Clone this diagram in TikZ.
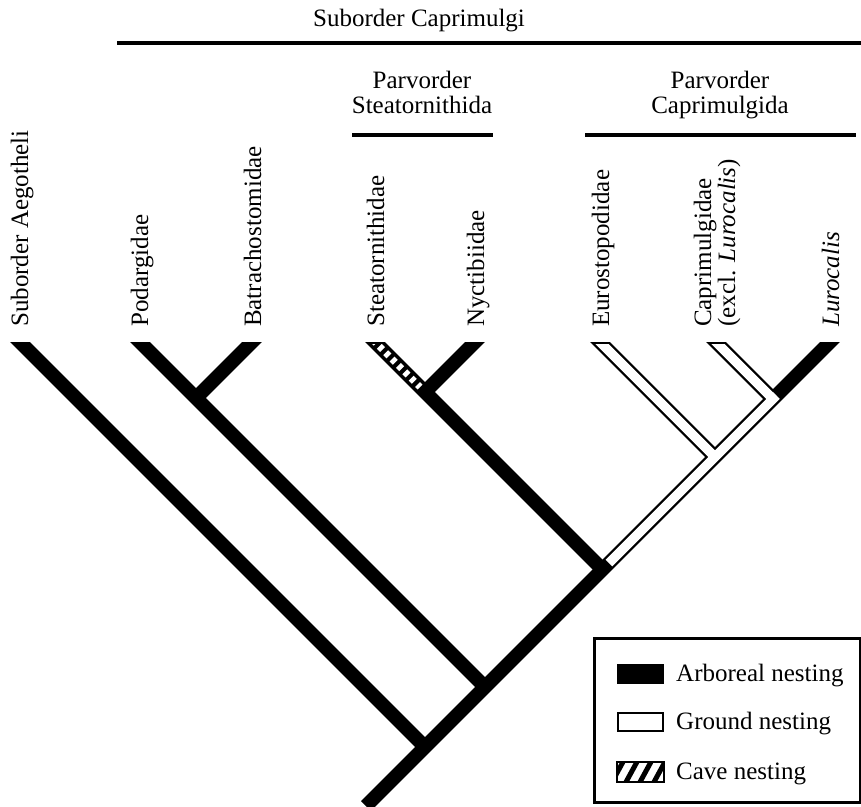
\documentclass[tikz,border=0pt]{standalone}
\usepackage{fontspec}
\setmainfont{Liberation Serif}
\newcommand\fsz{\fontsize{25}{28}\selectfont}
\begin{document}
\begin{tikzpicture}[x=1pt,y=-1pt,
  br/.style={line width=14pt, line cap=butt},
  gr/.style={white, line width=9.5pt, line cap=butt},
  hatchline/.style={white, line width=7pt, line cap=butt, dash pattern=on 4.5pt off 4.5pt},
  vlab/.style={rotate=90, anchor=base west, inner sep=0pt, font=\fsz},
  hlab/.style={anchor=base, inner sep=0pt, font=\fsz},
  glab/.style={anchor=base west, inner sep=0pt, font=\fsz},
  bar/.style={line width=3.5pt},
  legsym/.style={line width=2pt}]
\useasboundingbox (0,0) rectangle (861,806);

% tips (extended above the cut line) and junctions
\coordinate (root) at (366,806);
\coordinate (luE) at (842,330);
\coordinate (aeE) at (8,330);
\coordinate (poE) at (128,330);
\coordinate (baE) at (264,330);
\coordinate (stE) at (363,330);
\coordinate (nyE) at (487,330);
\coordinate (euE) at (588,330);
\coordinate (caE) at (704,330);
\coordinate (A1) at (425,747);
\coordinate (A2) at (485,687);
\coordinate (A3) at (602.5,569.5);
\coordinate (A4) at (715,457);
\coordinate (A5) at (773,399);
\coordinate (J1) at (196,398);
\coordinate (J2) at (425,392);
\coordinate (A3w) at (608.9,563.1);
\coordinate (A5w) at (776.4,395.6);
\coordinate (stH1) at (373,340);
\coordinate (stH2) at (420,387);

% black branches
\begin{scope}
  \clip (0,342) rectangle (861,806);
  \draw[br] (root) -- (luE);
  \draw[br] (aeE) -- (A1);
  \draw[br] (poE) -- (A2);
  \draw[br] (baE) -- (J1);
  \draw[br] (stE) -- (A3);
  \draw[br] (nyE) -- (J2);
  \draw[br] (euE) -- (A4);
  \draw[br] (caE) -- (A5);
\end{scope}
% ground nesting (open) and cave nesting (hatched)
\begin{scope}
  \clip (0,344.3) rectangle (861,806);
  \draw[gr] (euE) -- (A4);
  \draw[gr] (caE) -- (A5);
  \draw[gr] (A3w) -- (A5w);
  \draw[hatchline] (stH1) -- (stH2);
\end{scope}

% taxon labels
\node[vlab] (ae) at (28,327) {Suborder Aegotheli};
\node[vlab] (po) at (148,327) {Podargidae};
\node[vlab] (ba) at (261,327) {Batrachostomidae};
\node[vlab] (st) at (384,327) {Steatornithidae};
\node[vlab] (ny) at (484,327) {Nyctibiidae};
\node[vlab] (eu) at (609,327) {Eurostopodidae};
\node[vlab] (caa) at (711,327) {Caprimulgidae};
\node[vlab] (cab) at (735,327) {(excl. \textit{Lurocalis})};
\node[vlab] (lu) at (839,327) {\textit{Lurocalis}};

% group labels and bars
\node[hlab] (sc) at (419,26) {Suborder Caprimulgi};
\coordinate (scL) at (117,43);
\coordinate (scR) at (861,43);
\draw[bar] (scL) -- (scR);

\node[hlab] (pst1) at (422,88) {Parvorder};
\node[hlab] (pst2) at (422,113) {Steatornithida};
\coordinate (pstL) at (352,135);
\coordinate (pstR) at (493,135);
\draw[bar] (pstL) -- (pstR);

\node[hlab] (pca1) at (720,88) {Parvorder};
\node[hlab] (pca2) at (720,113) {Caprimulgida};
\coordinate (pcaL) at (585,135);
\coordinate (pcaR) at (856,135);
\draw[bar] (pcaL) -- (pcaR);

% legend
\node[draw, line width=2.5pt, minimum width=266pt, minimum height=164pt, inner sep=0pt, anchor=north west] (legend) at (593,637) {};
\node[legsym, draw, fill=black, minimum width=45pt, minimum height=18pt, inner sep=0pt, anchor=north west] (symA) at (617,664) {};
\node[legsym, draw, fill=white, minimum width=45pt, minimum height=18pt, inner sep=0pt, anchor=north west] (symG) at (617,712) {};
\node[legsym, minimum width=45pt, minimum height=18pt, inner sep=0pt, anchor=north west] (symC) at (617,762) {};
\begin{scope}
  \clip (symC.south west) rectangle (symC.north east);
  \foreach \xx in {612,626,640,654,668}
    \draw[line width=5pt] (\xx,782) -- (\xx+12,760);
\end{scope}
\draw[legsym] (symC.south west) rectangle (symC.north east);
\node[glab] (tA) at (676,681) {Arboreal nesting};
\node[glab] (tG) at (676,729) {Ground nesting};
\node[glab] (tC) at (676,779) {Cave nesting};
\end{tikzpicture}
\end{document}
